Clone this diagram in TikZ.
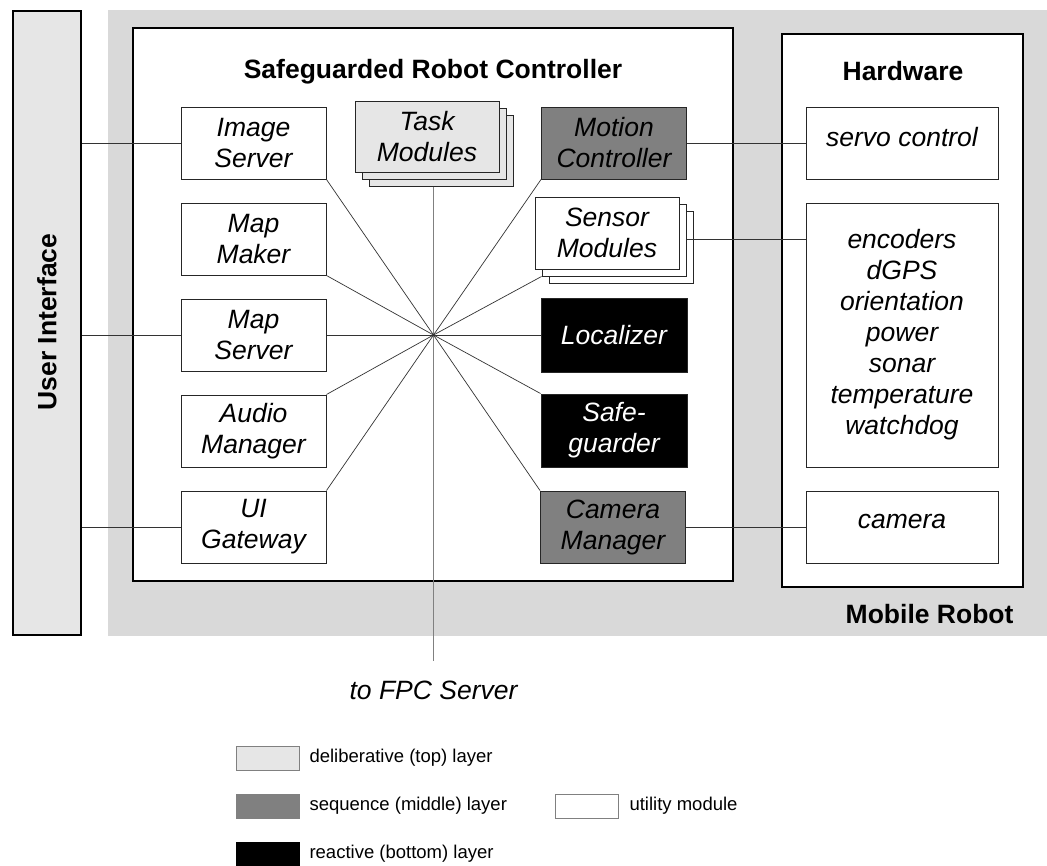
\documentclass[tikz,border=0pt]{standalone}
\usepackage{fontspec}
\setmainfont{Liberation Sans}
\definecolor{bgrey}{HTML}{D9D9D9}
\definecolor{lgrey}{HTML}{E6E6E6}
\definecolor{mgrey}{HTML}{808080}
\definecolor{dline}{HTML}{333333}
\tikzset{
  mod/.style={draw=black!85, line width=1pt, fill=white, minimum width=145pt,
    minimum height=72pt, inner sep=0pt, align=center,
    font=\fontsize{26.5}{31}\selectfont\itshape},
  delib/.style={mod, fill=lgrey},
  seqmod/.style={mod, fill=mgrey},
  react/.style={mod, fill=black, text=white},
  hw/.style={mod, minimum width=192pt},
  frame/.style={draw=black, line width=2pt, fill=white},
  title/.style={font=\fontsize{26.5}{31}\selectfont\bfseries},
  link/.style={draw=dline, line width=0.8pt},
  spoke/.style={draw=dline, line width=0.7pt},
  legbox/.style={draw=mgrey, line width=1pt, minimum width=63pt, minimum height=24pt, inner sep=0pt},
  legtext/.style={anchor=west, font=\fontsize{18.5}{22}\selectfont}
}
\begin{document}
\begin{tikzpicture}[x=1pt,y=-1pt]
\useasboundingbox (0,0) rectangle (1047,865);

% mobile robot backdrop and frames
\fill[bgrey] (108,10) rectangle (1047,636);
\node[draw=black, line width=2pt, fill=lgrey, minimum width=68pt, minimum height=624pt, inner sep=0pt] (ui) at (47,323) {};
\node[rotate=90, title] (uilabel) at (47,322) {User Interface};
\draw[frame] (133,28) rectangle (733,581);
\draw[frame] (782,34) rectangle (1023,587);
\node[title] (ctrltitle) at (433,72) {Safeguarded Robot Controller};
\node[title] (hwtitle) at (903,71) {Hardware};
\node[title, anchor=east] (mobile) at (1017,614) {Mobile Robot};

% left column of utility modules
\node[mod] (img) at (253.5,143) {Image\\Server};
\node[mod] (mapm) at (253.5,239) {Map\\Maker};
\node[mod] (maps) at (253.5,335) {Map\\Server};
\node[mod] (audio) at (253.5,431) {Audio\\Manager};
\node[mod] (uigw) at (253.5,527) {UI\\Gateway};

% task modules (stacked)
\node[delib, minimum width=144pt, minimum height=71pt] (task3) at (441,150.5) {};
\node[delib, minimum width=144pt, minimum height=71pt] (task2) at (434,143.5) {};
\node[delib, minimum width=144pt, minimum height=71pt] (task) at (427,136.5) {Task\\Modules};

% right column
\node[seqmod] (motion) at (614,143) {Motion\\Controller};
\node[mod, minimum width=144pt] (sens3) at (621,247) {};
\node[mod, minimum width=144pt] (sens2) at (614,240) {};
\node[mod, minimum width=144pt] (sens) at (607,233) {Sensor\\Modules};
\node[react, minimum width=146pt, minimum height=74pt] (loc) at (614,335) {Localizer};
\node[react, minimum width=146pt, minimum height=73pt] (safe) at (614,430.5) {Safe-\\guarder};
\node[seqmod] (cam) at (613,527) {Camera\\Manager};

% hardware items
\node[hw] (servo) at (902,143) {};
\node[font=\fontsize{26.5}{31}\selectfont\itshape] (servotxt) at (902,137) {servo control};
\node[hw, minimum height=264pt] (sensors) at (902,335)
  {encoders\\dGPS\\orientation\\power\\sonar\\temperature\\watchdog};
\node[hw] (hwcam) at (902,527) {};
\node[font=\fontsize{26.5}{31}\selectfont\itshape] (hwcamtxt) at (902,521) {camera};

% central bus
\coordinate (hub) at (433.5,335);
\coordinate (fpcend) at (433.5,661);
\draw[draw=mgrey, line width=1.5pt] (hub |- task3.south) -- (fpcend);
\node[font=\fontsize{26.5}{31}\selectfont\itshape] (fpc) at (433.5,690) {to FPC Server};
\draw[spoke] (hub) -- (img.south east);
\draw[spoke] (hub) -- (mapm.south east);
\draw[spoke] (hub) -- (maps.east);
\draw[spoke] (hub) -- (audio.north east);
\draw[spoke] (hub) -- (uigw.north east);
\draw[spoke] (hub) -- (motion.south west);
\draw[spoke] (hub) -- (sens2.south west);
\draw[spoke] (hub) -- (loc.west);
\draw[spoke] (hub) -- (safe.north west);
\draw[spoke] (hub) -- (cam.north west);

% links to user interface and hardware
\draw[link] (ui.east |- img.west) -- (img.west);
\draw[link] (ui.east |- maps.west) -- (maps.west);
\draw[link] (ui.east |- uigw.west) -- (uigw.west);
\draw[link] (motion.east) -- (servo.west);
\draw[link] (sens2.east |- 0,239) -- (sensors.west |- 0,239);
\draw[link] (cam.east) -- (hwcam.west);

% legend
\node[legbox, fill=lgrey] (lg1) at (267.5,758) {};
\node[legtext] (lt1) at (306,758) {deliberative (top) layer};
\node[legbox, fill=mgrey] (lg2) at (267.5,806) {};
\node[legtext] (lt2) at (306,806) {sequence (middle) layer};
\node[legbox, fill=black, draw=black] (lg3) at (267.5,854) {};
\node[legtext] (lt3) at (306,854) {reactive (bottom) layer};
\node[legbox, fill=white] (lg4) at (586.5,806) {};
\node[legtext] (lt4) at (626,806) {utility module};
\end{tikzpicture}
\end{document}
